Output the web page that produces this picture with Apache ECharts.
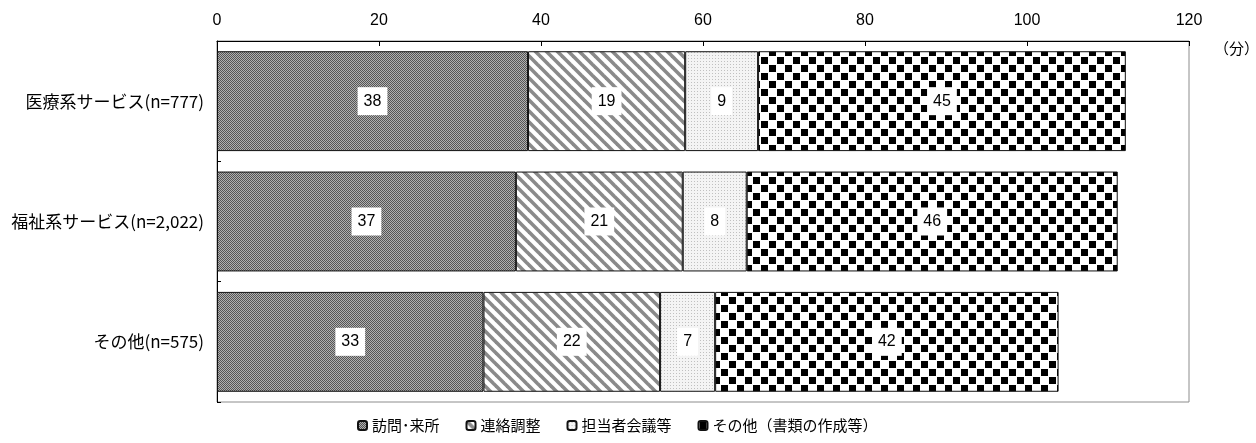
<!DOCTYPE html>
<html>
<head>
<meta charset="utf-8">
<script src="https://cdn.jsdelivr.net/npm/echarts@6/dist/echarts.min.js"></script>
<style>
  html, body { margin: 0; padding: 0; background: #fff; }
  #chart { width: 1256px; height: 443px; }
</style>
</head>
<body>
<div id="chart"></div>
<script>
// data (minutes)
const categories = ['医療系サービス(n=777)', '福祉系サービス(n=2,022)', 'その他(n=575)']
const seriesNames = ['訪問･来所', '連絡調整', '担当者会議等', 'その他（書類の作成等）']
const visitValues = [38.4, 36.9, 32.9]
const coordValues = [19.4, 20.6, 21.8]
const meetingValues = [9.0, 7.9, 6.8]
const otherValues = [45.4, 45.8, 42.4]
const xTicks = [0, 20, 40, 60, 80, 100, 120]

const jpFont = '"Noto Sans CJK JP", "Noto Sans", sans-serif'
const numFont = '"Liberation Sans", Arial, sans-serif'

// hatch patterns drawn on small canvases
const makeTile = (size, draw) => {
  const c = document.createElement('canvas')
  c.width = size
  c.height = size
  const ctx = c.getContext('2d')
  draw(ctx, size)
  return { image: c, repeat: 'repeat' }
}

const fineCheck = makeTile(2, (ctx) => {
  ctx.fillStyle = '#b0b0b0'
  ctx.fillRect(0, 0, 2, 2)
  ctx.fillStyle = '#555'
  ctx.fillRect(0, 0, 1, 1)
  ctx.fillRect(1, 1, 1, 1)
})

const stripes = makeTile(11, (ctx, s) => {
  ctx.fillStyle = '#fff'
  ctx.fillRect(0, 0, s, s)
  ctx.strokeStyle = '#8a8a8a'
  ctx.lineWidth = 3.6
  for (let k = -1; k <= 1; k++) {
    ctx.beginPath()
    ctx.moveTo(-2, -2 + k * s)
    ctx.lineTo(s + 2, s + 2 + k * s)
    ctx.stroke()
  }
})

const dots = makeTile(3, (ctx) => {
  ctx.fillStyle = '#f4f4f4'
  ctx.fillRect(0, 0, 3, 3)
  ctx.fillStyle = '#c0c0c0'
  ctx.fillRect(1, 1, 1, 1)
})

const bigCheck = makeTile(16, (ctx) => {
  ctx.fillStyle = '#fff'
  ctx.fillRect(0, 0, 16, 16)
  ctx.fillStyle = '#000'
  ctx.fillRect(1, 1, 7, 7)
  ctx.fillRect(9, 9, 7, 7)
})

const fills = [fineCheck, stripes, dots, bigCheck]
const values = [visitValues, coordValues, meetingValues, otherValues]

const chart = echarts.init(document.getElementById('chart'))

const option = {
  animation: false,
  grid: {
    left: 217,
    right: 67,
    top: 41,
    bottom: 41,
    outerBoundsMode: 'none',
    containLabel: false,
    show: true,
    borderColor: '#8c8c8c',
    borderWidth: 1
  },
  legend: {
    bottom: 5,
    left: 352,
    itemWidth: 9,
    itemHeight: 9,
    itemGap: 26,
    textStyle: { fontFamily: jpFont, fontSize: 15, color: '#000' },
    data: seriesNames
  },
  xAxis: {
    type: 'value',
    position: 'top',
    min: 0,
    max: 120,
    interval: 20,
    name: '（分）',
    nameLocation: 'end',
    nameGap: 25,
    nameTextStyle: { fontFamily: jpFont, fontSize: 15, color: '#000', verticalAlign: 'top', padding: [0, 0, 0, 0] },
    axisLine: { show: true, lineStyle: { color: '#000', width: 1 } },
    axisTick: { show: true, inside: true, length: 5, lineStyle: { color: '#000' } },
    axisLabel: {
      margin: 12,
      fontFamily: numFont,
      fontSize: 16,
      color: '#000',
      formatter: (v) => (xTicks.includes(v) ? String(v) : '')
    },
    splitLine: { show: false }
  },
  yAxis: {
    type: 'category',
    inverse: true,
    data: categories,
    axisLine: { show: true, lineStyle: { color: '#000', width: 1 } },
    axisTick: { show: true, inside: true, length: 4, lineStyle: { color: '#000' } },
    axisLabel: { margin: 13, fontFamily: jpFont, fontSize: 17, color: '#000' }
  },
  series: seriesNames.map((name, i) => ({
    name,
    type: 'bar',
    stack: 'total',
    barCategoryGap: '17%',
    data: values[i],
    itemStyle: { color: fills[i], borderColor: '#111', borderWidth: 1 },
    label: {
      show: true,
      position: 'inside',
      fontFamily: numFont,
      fontSize: 16,
      color: '#000',
      backgroundColor: '#fff',
      padding: [6, 6],
      formatter: (p) => Math.round(p.value)
    }
  }))
}

chart.setOption(option)
</script>
</body>
</html>
